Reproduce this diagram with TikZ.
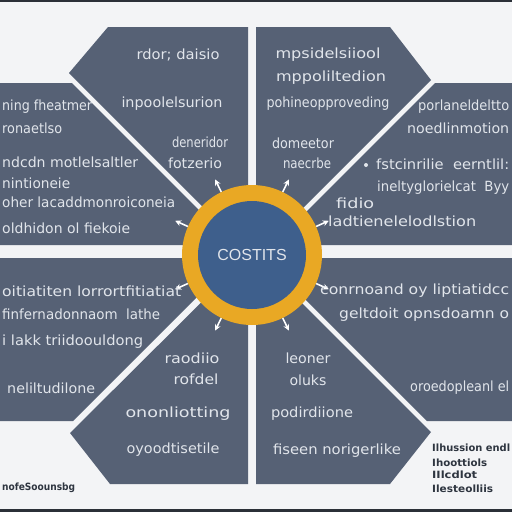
\documentclass[tikz,border=0pt]{standalone}
\usepackage{fontspec}
\setmainfont{DejaVu Sans}
\newfontfamily\hubfont{Liberation Sans}
\usepackage{graphicx}
\usetikzlibrary{arrows.meta}
\definecolor{bg}{HTML}{F3F4F6}
\definecolor{panel}{HTML}{566175}
\definecolor{ring}{HTML}{E9A824}
\definecolor{core}{HTML}{3E5F8C}
\definecolor{ptext}{HTML}{E1E5EB}
\definecolor{dtext}{HTML}{2E3540}
\definecolor{edge}{HTML}{2B3038}
\newlength\fwtmp
\newcommand\fitw[2]{\settowidth\fwtmp{#2}\pgfmathsetmacro\fwr{#1/\fwtmp}\scalebox{\fwr}[1]{#2}}
\tikzset{
  ptxt/.style={text=ptext, font=\fontsize{14}{14}\selectfont, inner sep=0pt},
  pw/.style={ptxt, anchor=west},
  ntxt/.style={text=dtext, font=\bfseries\fontsize{10}{10}\selectfont, inner sep=0pt, anchor=west},
  pan/.style={fill=panel},
  arr/.style={white, line width=1.6pt, -{Stealth[length=6pt,width=6pt]}}
}
\begin{document}
\begin{tikzpicture}[x=1pt,y=-1pt]
\useasboundingbox (0,0) rectangle (512,512);
\fill[bg] (0,0) rectangle (512,512);
\fill[edge] (0,0) rectangle (512,2);
\fill[edge] (0,509) rectangle (512,512);
% panels
\fill[pan] (108,27) -- (248,27) -- (248,252) -- (69,73) -- cycle;
\fill[pan] (0,83) -- (72,83) -- (234,245) -- (0,245) -- cycle;
\fill[pan] (256,27) -- (390,27) -- (431,80) -- (256,255) -- cycle;
\fill[pan] (435,83) -- (512,83) -- (512,245) -- (273,245) -- cycle;
\fill[pan] (0,258) -- (236,258) -- (73,421) -- (0,421) -- cycle;
\fill[pan] (248,256) -- (248,484) -- (110,484) -- (70,433) -- cycle;
\fill[pan] (256,257) -- (431,432) -- (390,484) -- (256,484) -- cycle;
\fill[pan] (264,258) -- (512,258) -- (512,421) -- (427,421) -- cycle;
% hub
\node[circle, fill=ring, minimum size=140pt, inner sep=0pt] (hub) at (252,255) {};
\node[circle, fill=core, minimum size=108pt, inner sep=0pt, text=ptext, font=\hubfont\fontsize{16}{16}\selectfont] (core) at (252,255) {COSTITS};
% arrow marks
\coordinate (m1) at (215.2,179.5);
\coordinate (m2) at (288.8,179.5);
\coordinate (m3) at (175.2,220.8);
\coordinate (m4) at (328.8,220.8);
\coordinate (m5) at (175.2,289.2);
\coordinate (m6) at (328.8,289.2);
\coordinate (m7) at (215.2,330.5);
\coordinate (m8) at (288.8,330.5);
\draw[arr] (hub.116) -- (m1);
\draw[arr] (hub.64) -- (m2);
\draw[arr] (hub.156) -- (m3);
\draw[arr] (hub.24) -- (m4);
\draw[arr] (hub.204) -- (m5);
\draw[arr] (hub.336) -- (m6);
\draw[arr] (hub.244) -- (m7);
\draw[arr] (hub.296) -- (m8);
% top-left panel
\node[ptxt] (a1) at (178,55) {\fitw{83}{rdor; daisio}};
\node[ptxt] (a2) at (172,104) {\fitw{101}{inpoolelsurion}};
\node[ptxt] (a3) at (200,142) {\fitw{56}{deneridor}};
\node[ptxt] (a4) at (195,163) {\fitw{54}{fotzerio}};
% left panel
\node[pw] (b1) at (2,107) {\fitw{90}{ning fheatmer}};
\node[pw] (b2) at (2,128) {\fitw{60}{ronaetlso}};
\node[pw] (b3) at (2,162) {\fitw{136}{ndcdn motlelsaltler}};
\node[pw] (b4) at (2,183) {\fitw{68}{nintioneie}};
\node[pw] (b5) at (2,202) {\fitw{173}{oher lacaddmonroiconeia}};
\node[pw] (b6) at (2,228) {\fitw{128}{oldhidon ol fiekoie}};
% top-right panel
\node[ptxt] (c1) at (328,55) {\fitw{105}{mpsidelsiiool}};
\node[ptxt] (c2) at (331,78) {\fitw{110}{mppoliltedion}};
\node[ptxt] (c3) at (328,104) {\fitw{123}{pohineopproveding}};
\node[ptxt] (c4) at (303,143) {\fitw{62}{domeetor}};
\node[ptxt] (c5) at (307,163) {\fitw{48}{naecrbe}};
% right panel
\node[pw] (d1) at (418,107) {\fitw{91}{porlaneldeltto}};
\node[pw] (d2) at (407,128) {\fitw{102}{noedlinmotion}};
\fill[ptext] (366,165) circle (2);
\node[pw] (d3) at (376,164) {\fitw{133}{fstcinrilie\ \ eerntlil:}};
\node[pw] (d4) at (377,188) {\fitw{132}{ineltyglorielcat\ \ Byy}};
\node[pw] (d5) at (336,203) {\fitw{38}{fidio}};
\node[pw] (d6) at (328,221) {\fitw{148}{ladtienelelodlstion}};
% bottom-left panel
\node[pw] (e1) at (2,291) {\fitw{179}{oitiatiten lorrortfitiatiat}};
\node[pw] (e2) at (2,314) {\fitw{158}{finfernadonnaom\ \ lathe}};
\node[pw] (e3) at (2,342) {\fitw{141}{i lakk triidoouldong}};
\node[pw] (e4) at (7,388) {\fitw{88}{neliltudilone}};
% bottom-centre-left panel
\node[ptxt] (f1) at (192,358) {\fitw{55}{raodiio}};
\node[ptxt] (f2) at (196,379) {\fitw{45}{rofdel}};
\node[ptxt] (f3) at (178,414) {\fitw{105}{ononliotting}};
\node[ptxt] (f4) at (173,450) {\fitw{93}{oyoodtisetile}};
% bottom-centre-right panel
\node[ptxt] (g1) at (308,358) {\fitw{45}{leoner}};
\node[ptxt] (g2) at (308,380) {\fitw{37}{oluks}};
\node[ptxt] (g3) at (312,414) {\fitw{82}{podirdiione}};
\node[ptxt] (g4) at (337,451) {\fitw{128}{fiseen norigerlike}};
% bottom-right panel
\node[pw] (h1) at (320,291) {\fitw{189}{conrnoand oy liptiatidcc}};
\node[pw] (h2) at (339,315) {\fitw{170}{geltdoit opnsdoamn o}};
\node[pw] (h3) at (410,388) {\fitw{99}{oroedopleanl el}};
% notes outside panels
\node[ntxt] (n1) at (432,448) {\fitw{78}{Ilhussion endl}};
\node[ntxt] (n2) at (432,463) {\fitw{55}{Ihoottiols}};
\node[ntxt] (n3) at (432,475) {\fitw{45}{IIlcdlot}};
\node[ntxt] (n4) at (432,489) {\fitw{61}{Ilesteolliis}};
\node[ntxt] (n5) at (2,488) {\fitw{73}{nofeSoounsbg}};
\end{tikzpicture}
\end{document}
